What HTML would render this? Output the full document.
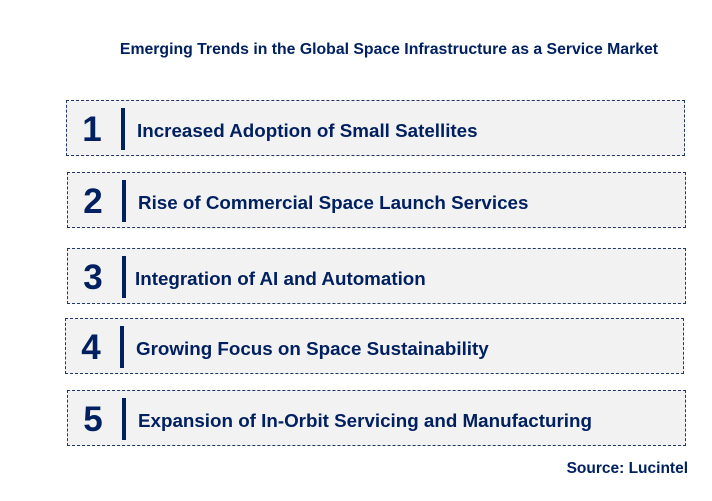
<!DOCTYPE html>
<html><head><style>
body{margin:0;width:712px;height:501px;background:#fff;font-family:"Liberation Sans",Arial,sans-serif;position:relative;overflow:hidden;color:#002060}
.t{position:absolute;left:0;width:712px;top:41px;text-align:center;font-weight:bold;font-size:15.8px;padding-left:66px;box-sizing:border-box;white-space:nowrap}
.b{position:absolute;height:54px;width:617px;background:#f2f2f2;border:1px dashed #1f3864}
.n{position:absolute;left:11px;width:28px;text-align:center;top:9px;font-size:35px;font-weight:bold}
.bar{position:absolute;left:54px;top:7px;width:4px;height:42px;background:#002060}
.x{position:absolute;left:70px;top:19px;font-size:18.8px;font-weight:bold;white-space:nowrap}
.s{position:absolute;right:24px;top:460px;font-size:15.5px;font-weight:bold}
</style></head><body>
<div class="t">Emerging Trends in the Global Space Infrastructure as a Service Market</div>
<div class="b" style="left:66px;top:100px"><div class="n">1</div><div class="bar"></div><div class="x">Increased Adoption of Small Satellites</div></div>
<div class="b" style="left:67px;top:172px"><div class="n">2</div><div class="bar"></div><div class="x">Rise of Commercial Space Launch Services</div></div>
<div class="b" style="left:67px;top:248px"><div class="n">3</div><div class="bar"></div><div class="x" style="left:67px">Integration of AI and Automation</div></div>
<div class="b" style="left:65px;top:318px"><div class="n">4</div><div class="bar"></div><div class="x">Growing Focus on Space Sustainability</div></div>
<div class="b" style="left:67px;top:390px"><div class="n">5</div><div class="bar"></div><div class="x">Expansion of In-Orbit Servicing and Manufacturing</div></div>
<div class="s">Source: Lucintel</div>
</body></html>
